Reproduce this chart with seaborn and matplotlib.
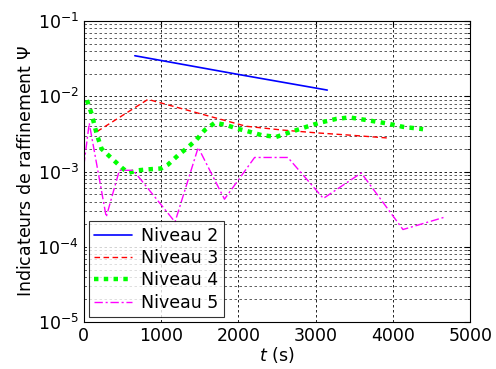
import pandas as pd
import matplotlib
matplotlib.use("Agg")
import matplotlib.pyplot as plt
import seaborn as sns

sns.set_style("white")
plt.rcParams['font.family'] = ['DejaVu Sans']
for key in ['text.color', 'axes.labelcolor', 'xtick.color', 'ytick.color']:
    plt.rcParams[key] = 'black'

# Values (t in s, indicator on log scale)
t2 = [660, 1990, 3150]
v2 = [0.0346, 0.0196, 0.0121]

t3 = [170, 830, 2100, 2575, 3010, 3440, 3920]
v3 = [0.0034, 0.0091, 0.0040, 0.00356, 0.00327, 0.00305, 0.0028]

t4 = [40, 100, 165, 230, 360, 490, 575, 700, 830, 1000, 1090, 1220, 1330, 1460,
      1565, 1695, 1850, 1975, 2150, 2300, 2490, 2710, 2880, 3050, 3270, 3440,
      3660, 3920, 4130, 4390]
v4 = [0.0089, 0.0059, 0.0032, 0.0020, 0.0015, 0.00113, 0.00096, 0.00104, 0.00107,
      0.0011, 0.00124, 0.00165, 0.00203, 0.00267, 0.00356, 0.00445, 0.00414,
      0.00374, 0.00337, 0.00305, 0.00289, 0.00344, 0.00393, 0.00445, 0.00502,
      0.00524, 0.00483, 0.00437, 0.00393, 0.00366]

t5 = [0, 70, 290, 460, 640, 1180, 1480, 1820, 2210, 2640, 3100, 3590, 4130, 4680]
v5 = [0.0012, 0.0044, 0.00025, 0.00104, 0.00104, 0.000214, 0.00209, 0.00043,
      0.00154, 0.00154, 0.00044, 0.00096, 0.00017, 0.00025]

series = [
    ("Niveau 2", t2, v2, "#0000FF", "-", 1.2),
    ("Niveau 3", t3, v3, "#FF0000", (0, (4, 2.5)), 1.0),
    ("Niveau 4", t4, v4, "#00FF00", (0, (1, 1.2)), 3.2),
    ("Niveau 5", t5, v5, "#FF00FF", (0, (6, 2, 1.5, 2)), 1.0),
]

fig = plt.figure(figsize=(4.96, 3.69), dpi=100)
ax = fig.add_axes([0.169, 0.127, 0.779, 0.816])

for name, t, v, col, ls, lw in series:
    sns.lineplot(x=t, y=v, color=col, linestyle=ls, linewidth=lw, label=name, ax=ax)

ax.set_yscale("log")
ax.set_xlim(0, 5000)
ax.set_ylim(1e-5, 1e-1)
ax.set_xticks([0, 1000, 2000, 3000, 4000, 5000])

ax.grid(True, which="major", axis="both", color="black", linestyle=(0, (3, 3)), linewidth=0.6)
ax.grid(True, which="minor", axis="y", color="#444444", linestyle=(0, (3, 3)), linewidth=0.6)
ax.tick_params(which="both", direction="in", labelsize=12.5, top=True, right=True)
ax.tick_params(which="major", length=4)
ax.tick_params(which="minor", length=2)
for s in ax.spines.values():
    s.set_color("black")
    s.set_linewidth(0.8)

ax.set_xlabel(r"$t$ (s)", fontsize=12.5, labelpad=0)
ax.set_ylabel(r"Indicateurs de raffinement $\Psi$", fontsize=12.5, labelpad=2)

leg = ax.legend(loc="lower left", fontsize=12.5, handlelength=2.2, frameon=True,
                fancybox=False, borderpad=0.3, labelspacing=0.25, handletextpad=0.5,
                borderaxespad=0.3)
leg.get_frame().set_edgecolor("black")
leg.get_frame().set_linewidth(0.8)

fig.savefig("out.png", dpi=100)
